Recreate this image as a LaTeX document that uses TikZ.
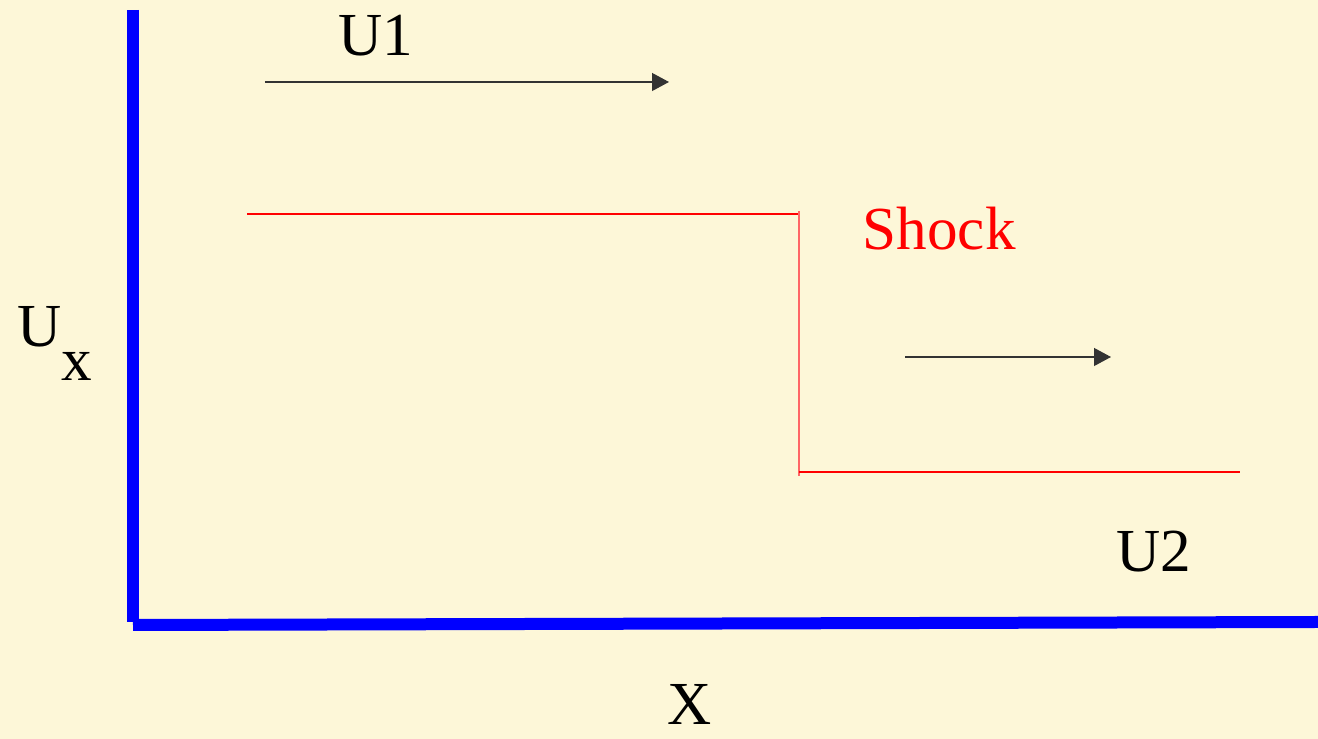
\documentclass[tikz,border=0pt]{standalone}
\usepackage{fontspec}
\setmainfont{Liberation Serif}
\usetikzlibrary{arrows.meta, calc}
\definecolor{paper}{RGB}{253,247,216}

\begin{document}
\begin{tikzpicture}[
            x=1cm, y=1cm,
            lbl/.style={anchor=base west, inner sep=0pt, font=\fontsize{17.4}{20}\selectfont},
            axis/.style={blue, line width=0.12cm},
            prof/.style={red, line width=0.3pt},
            flow/.style={black!80, line width=0.35pt, -{Triangle[length=0.17cm, width=0.18cm]}}
        ]
            % --- Background ---
            \fill[paper] (0,0) rectangle (13.18,7.39);
            \useasboundingbox (0,0) rectangle (13.18,7.39);

            % --- Axes ---
            \coordinate (ytop) at (1.33,7.29);
            \coordinate (origin) at (1.33,1.17);
            \coordinate (xend) at (13.18,1.17);
            \draw[axis] (ytop) -- (origin);
            \draw[axis] (1.33,1.14) -- (xend);

            % --- Velocity profile ---
            \coordinate (p1) at (2.47,5.25);
            \coordinate (p2) at (7.99,5.25);
            \coordinate (p3) at (7.99,2.67);
            \coordinate (p4) at (12.40,2.67);
            \draw[prof] (p1) -- (p2);
            \draw[red!60, line width=0.4pt] ($(p2)+(0,0.03)$) -- ($(p3)+(0,-0.04)$);
            \draw[prof] (p3) -- (p4);

            % --- Flow arrows ---
            \coordinate (a1) at (2.65,6.57);
            \coordinate (b1) at (6.69,6.57);
            \coordinate (a2) at (9.05,3.82);
            \coordinate (b2) at (11.11,3.82);
            \draw[flow] (a1) -- (b1);
            \draw[flow] (a2) -- (b2);

            % --- Labels ---
            \node[lbl] (u1) at (3.38,6.83) {U1};
            \node[lbl, red] (shock) at (8.62,4.89) {Shock};
            \node[lbl] (u2) at (11.16,1.67) {U2};
            \node[lbl] (xlab) at (6.67,0.14) {X};
            \node[lbl] (ylab) at (0.17,3.92) {U\raisebox{-0.34cm}{x}};

        \end{tikzpicture}
\end{document}
